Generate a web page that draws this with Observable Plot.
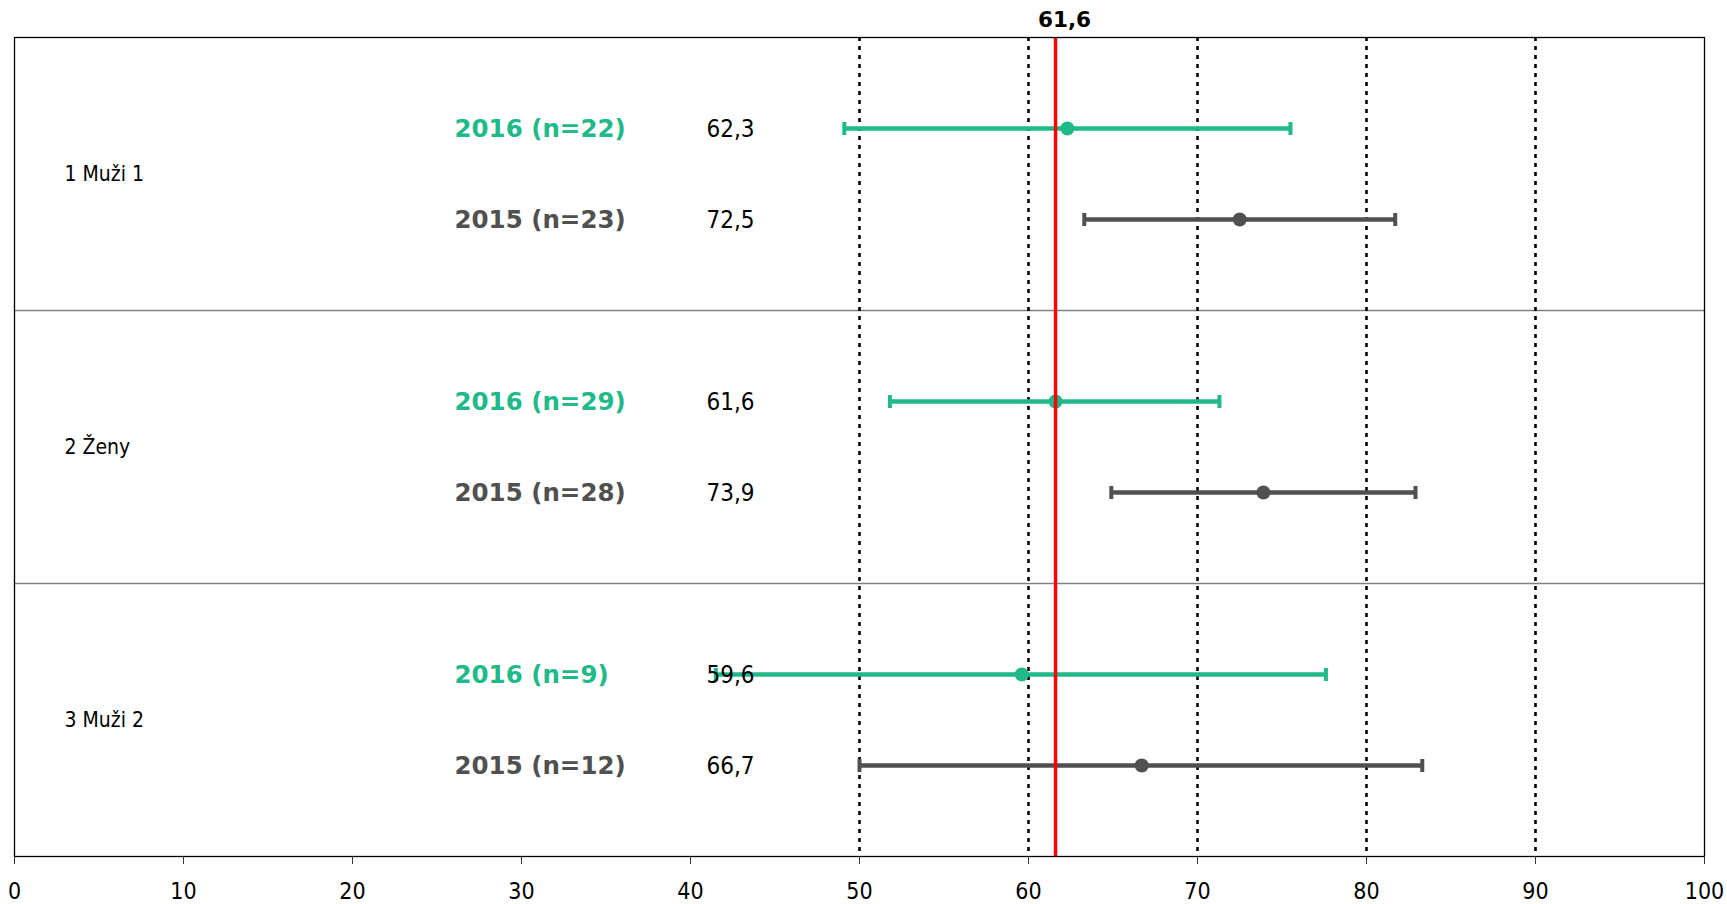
<!DOCTYPE html>
<html>
<head>
<meta charset="utf-8">
<script src="https://cdn.jsdelivr.net/npm/d3@7"></script>
<script src="https://cdn.jsdelivr.net/npm/@observablehq/plot@0.6"></script>
<style>
  html, body { margin: 0; padding: 0; background: #fff; }
  #chart svg { display: block; }
</style>
</head>
<body>
<div id="chart"></div>
<script>
// ---- data ----
const groups = ["1 Muži 1", "2 Ženy", "3 Muži 2"];
const years = ["2016", "2015"];
const sampleSizes = [[22, 23], [29, 28], [9, 12]];          // per group: [2016, 2015]
const means = [[62.3, 72.5], [61.6, 73.9], [59.6, 66.7]];
const lows  = [[49.1, 63.3], [51.8, 64.9], [41.5, 50.0]];
const highs = [[75.5, 81.7], [71.3, 82.9], [77.6, 83.3]];
const referenceValue = 61.6;
const xTicks = [0, 10, 20, 30, 40, 50, 60, 70, 80, 90, 100];
const gridValues = [50, 60, 70, 80, 90];

// ---- build table ----
const rows = groups.flatMap((g, gi) => years.map((yr, yi) => ({
  group: g,
  year: yr,
  label: `${yr} (n=${sampleSizes[gi][yi]})`,
  mean: means[gi][yi],
  low: lows[gi][yi],
  high: highs[gi][yi],
  slot: gi * 3 + yi + 1
})));
const groupRows = groups.map((g, gi) => ({group: g, slot: gi * 3 + 1.5}));
const separators = groups.slice(1).map((g, gi) => (gi + 1) * 3);

const colors = {"2016": "#20b98a", "2015": "#505050"};
const comma = (v) => d3.format(".1f")(v).replace(".", ",");
const regularFont = "'DejaVu Sans Condensed', 'DejaVu Sans', sans-serif";
const boldFont = "'DejaVu Sans', sans-serif";

// vertical cap symbol for error bars
const capSymbol = {
  draw(context, size) {
    const h = Math.sqrt(size / Math.PI);
    context.moveTo(0, -h);
    context.lineTo(0, h);
  }
};

const chart = Plot.plot({
  width: 1727,
  height: 904,
  marginLeft: 14,
  marginRight: 23,
  marginTop: 37,
  marginBottom: 48,
  style: {fontFamily: regularFont, background: "#fff", color: "#000"},
  x: {domain: [0, 100], axis: null},
  y: {domain: [0, 9], reverse: true, axis: null},
  color: {domain: years, range: years.map((y) => colors[y])},
  marks: [
    Plot.ruleY(separators, {stroke: "#808080", strokeWidth: 1.3}),
    Plot.ruleX(gridValues, {stroke: "#000", strokeWidth: 2.6, strokeDasharray: "4,5"}),
    Plot.ruleY(rows, {y: "slot", x1: "low", x2: "high", stroke: "year", strokeWidth: 4.5}),
    Plot.dot(rows, {x: "low", y: "slot", symbol: capSymbol, r: 6.5, fill: "none", stroke: "year", strokeWidth: 4}),
    Plot.dot(rows, {x: "high", y: "slot", symbol: capSymbol, r: 6.5, fill: "none", stroke: "year", strokeWidth: 4}),
    Plot.dot(rows, {x: "mean", y: "slot", r: 7, fill: "year", stroke: "none"}),
    Plot.ruleX([referenceValue], {stroke: "#ff0000", strokeWidth: 3.5}),
    Plot.text([referenceValue], {x: (d) => d, frameAnchor: "top", text: (d) => comma(d), dy: -17, dx: 9,
      fontFamily: boldFont, fontWeight: "bold", fontSize: 21.5, fill: "#000", lineAnchor: "middle"}),
    Plot.text(groupRows, {y: "slot", text: "group", frameAnchor: "left", dx: 50, textAnchor: "start",
      fontSize: 21, fill: "#000"}),
    Plot.text(rows, {y: "slot", text: "label", frameAnchor: "left", dx: 440, textAnchor: "start",
      fontFamily: boldFont, fontWeight: "bold", fontSize: 24.5, fill: "year", dy: 1}),
    Plot.text(rows, {y: "slot", text: (d) => comma(d.mean), frameAnchor: "left", dx: 692, textAnchor: "start",
      fontSize: 24, fill: "#000", dy: 1}),
    Plot.frame({stroke: "#000", strokeWidth: 1.3}),
    Plot.axisX(xTicks, {tickSize: 8, tickPadding: 18, fontSize: 23, tickFormat: (d) => String(d),
      stroke: "#333", fill: "#000"})
  ]
});
document.getElementById("chart").appendChild(chart);
</script>
</body>
</html>
